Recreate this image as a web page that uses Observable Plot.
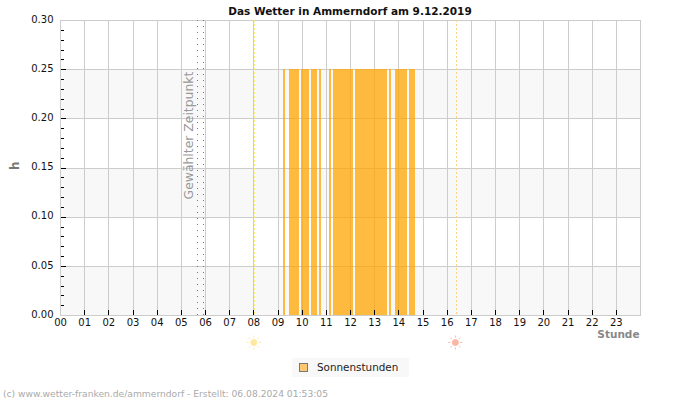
<!DOCTYPE html>
<html lang="de">
<head>
<meta charset="utf-8">
<script src="https://cdn.jsdelivr.net/npm/d3@7"></script>
<script src="https://cdn.jsdelivr.net/npm/@observablehq/plot@0.6"></script>
<style>
  html, body { margin: 0; padding: 0; background: #fff; }
  body { width: 700px; height: 400px; overflow: hidden; font-family: "DejaVu Sans", sans-serif; }
  #title { height: 14px; line-height: 22px; text-align: center; font-size: 10.5px; font-weight: bold; color: #111; }
  #chart svg { display: block; }
  #legend { position: absolute; left: 292px; top: 358px; width: 117px; height: 19px; background: #f8f8f8;
            font-size: 10.4px; line-height: 18px; color: #222; }
  #legend i { position: absolute; left: 7px; top: 5px; width: 7px; height: 7px; background: #fdc871; border: 1px solid #777; }
  #legend span { position: absolute; left: 25px; top: 0; white-space: nowrap; }
  #footer { position: absolute; left: 3px; top: 388px; font-size: 9.17px; line-height: 12px; color: #aaa; white-space: nowrap; }
</style>
</head>
<body>
<div id="title">Das Wetter in Ammerndorf am 9.12.2019</div>
<div id="chart"></div>
<div id="legend"><i></i><span>Sonnenstunden</span></div>
<div id="footer">(c) www.wetter-franken.de/ammerndorf - Erstellt: 06.08.2024 01:53:05</div>
<script>
// Sunshine periods of the day, in decimal hours
const sunStart = [9.23, 9.48, 9.97, 10.39, 10.72, 11.13, 11.30, 12.21, 13.61, 13.86, 14.44];
const sunEnd   = [9.31, 9.89, 10.30, 10.63, 10.80, 11.21, 12.12, 13.53, 13.70, 14.36, 14.69];
const sunValue = 0.25;

const hours = d3.range(0, 24);
const gridHours = d3.range(1, 24);
const majorY = [0, 0.05, 0.10, 0.15, 0.20, 0.25, 0.30];
const minorY = [0.01, 0.02, 0.03, 0.04, 0.06, 0.07, 0.08, 0.09, 0.11, 0.12, 0.13, 0.14,
                0.16, 0.17, 0.18, 0.19, 0.21, 0.22, 0.23, 0.24, 0.26, 0.27, 0.28, 0.29];
const bandLow  = [0, 0.10, 0.20];
const bandHigh = [0.05, 0.15, 0.25];

const selectedTimes = [5.65, 5.9];
const sunrise = 8.03;
const sunset = 16.4;
const iconLevel = -0.0275;

const bars = sunStart.map((start, i) => ({start, end: sunEnd[i], value: sunValue}));

// Small sun: a disc with short rays around it
const sunSymbol = {
  draw(context, size) {
    const r = Math.sqrt(size / Math.PI);
    context.moveTo(r, 0);
    context.arc(0, 0, r, 0, 2 * Math.PI);
    for (let k = 0; k < 8; ++k) {
      const a = k * Math.PI / 4;
      context.moveTo(Math.cos(a) * (r + 2), Math.sin(a) * (r + 2));
      context.lineTo(Math.cos(a) * (r + 4), Math.sin(a) * (r + 4));
    }
  }
};

const crisp = {shapeRendering: "crispEdges"};

const plot = Plot.plot({
  width: 700,
  height: 338,
  marginTop: 6,
  marginLeft: 60,
  marginRight: 60,
  marginBottom: 37,
  style: {fontFamily: "'DejaVu Sans', sans-serif", fontSize: "10px", background: "transparent", overflow: "visible"},
  x: {domain: [0, 24]},
  y: {domain: [0, 0.3]},
  marks: [
    Plot.rectY(bandLow, {y1: d => d, y2: (d, i) => bandHigh[i], fill: "#f8f8f8", ...crisp}),
    Plot.ruleX(gridHours, {stroke: "#cccccc", ...crisp}),
    Plot.ruleY(majorY.slice(1, -1), {stroke: "#cccccc", ...crisp}),
    Plot.frame({stroke: "#cccccc", ...crisp}),
    Plot.rectY(bars, {x1: "start", x2: "end", y1: 0, y2: "value", fill: "#ffa500", fillOpacity: 0.75, ...crisp}),
    Plot.ruleX(selectedTimes, {stroke: "#777", strokeDasharray: "1,5", ...crisp}),
    Plot.ruleX([sunrise], {stroke: "#f8ee7a", strokeDasharray: "2,2", ...crisp}),
    Plot.ruleX([sunset], {stroke: "#ffd08a", strokeDasharray: "2,2", ...crisp}),
    Plot.ruleX(gridHours, {y1: 0, y2: 0.005, stroke: "#000", ...crisp}),
    Plot.ruleY(majorY.slice(1, -1), {x1: 0.04, x2: 0.25, stroke: "#000", ...crisp}),
    Plot.ruleY(minorY, {x1: 0.04, x2: 0.15, stroke: "#000", ...crisp}),
    Plot.axisX(hours, {tickSize: 0, tickPadding: 3, tickFormat: d3.format("02"), label: null, fill: "#111", fontSize: 10}),
    Plot.axisY(majorY, {tickSize: 0, tickPadding: 7, dy: -1, tickFormat: d3.format(".2f"), label: null, fill: "#111", fontSize: 10}),
    Plot.text(["Gewählter Zeitpunkt"], {
      x: selectedTimes[0] - 0.33, y: 0.118, text: d => d, rotate: -90, textAnchor: "start",
      fontSize: 12.4, fill: "#999"
    }),
    Plot.text(["h"], {frameAnchor: "left", dx: -45, dy: 2, text: d => d, rotate: -90, fontSize: 12, fontWeight: "bold", fill: "#777"}),
    Plot.text(["Stunde"], {frameAnchor: "bottom-right", dx: -1, dy: 22, text: d => d, fontSize: 10.5, fontWeight: "bold", fill: "#888"}),
    Plot.dot([sunrise], {x: d => d, y: iconLevel, dx: -0.7, r: 3, symbol: sunSymbol, fill: "#ffe99e", stroke: "#ffe99e", strokeWidth: 1}),
    Plot.dot([sunset], {x: d => d, y: iconLevel, dx: -1.5, r: 3, symbol: sunSymbol, fill: "#ffb5a5", stroke: "#ffb5a5", strokeWidth: 1})
  ]
});
document.getElementById("chart").append(plot);
</script>
</body>
</html>
